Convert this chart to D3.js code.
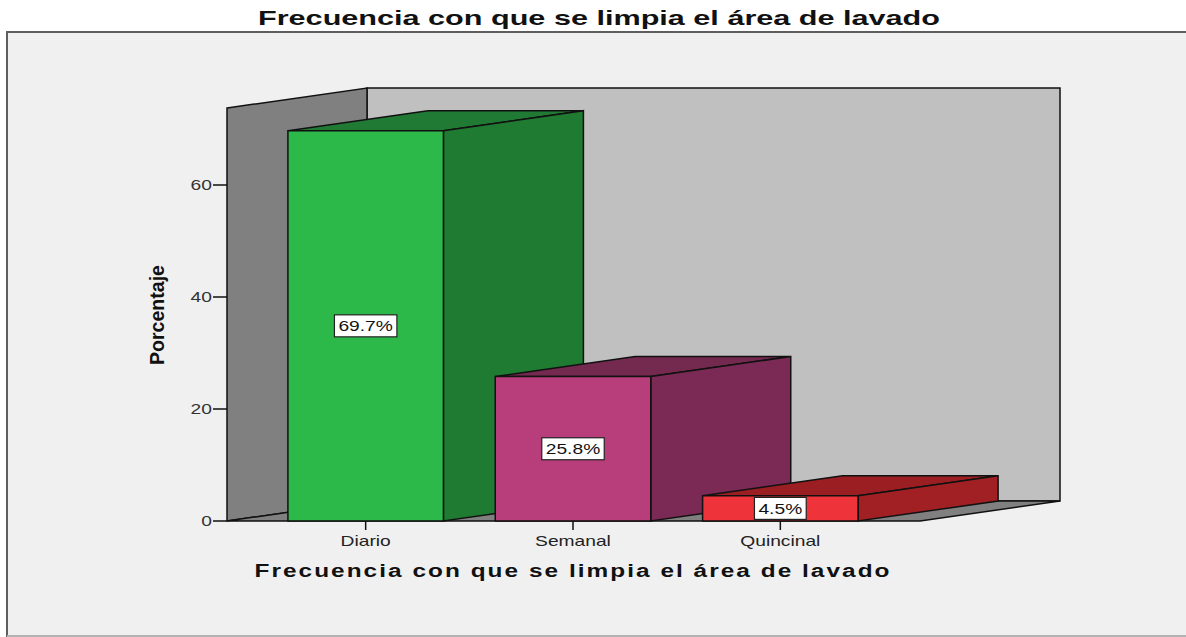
<!DOCTYPE html>
<html>
<head>
<meta charset="utf-8">
<script src="https://cdn.jsdelivr.net/npm/d3@7"></script>
<style>
  body { margin: 0; background: #fff; }
  svg { display: block; font-family: "Liberation Sans", Arial, sans-serif; }
</style>
</head>
<body>
<svg id="chart" width="1186" height="637"></svg>
<script>
// chart data
const categories = ["Diario", "Semanal", "Quincinal"];
const values = [69.7, 25.8, 4.5];
const labels = ["69.7%", "25.8%", "4.5%"];
const yTicks = [0, 20, 40, 60];
const frontColors = ["#2db84a", "#b83e7b", "#ef333b"];
const sideColors = ["#1f7a32", "#7a2a54", "#a02024"];
const topColors = ["#217a34", "#74294f", "#9b1f22"];

const titleText = "Frecuencia con que se limpia el área de lavado";

let svg = d3.select("#chart");

// depth of the 3d box
const dx = 140, dy = -20;
// the picture is stretched sideways, so stretch the small texts too
const stretch = 1.28;

let x = d3.scaleBand().domain(categories).range([262, 884]).paddingInner(0.25).paddingOuter(0.125);
let y = d3.scaleLinear().domain([0, 73.75]).range([521, 108]);

function widen(t) {
  let w = t.node().getComputedTextLength();
  t.attr("textLength", w * stretch).attr("lengthAdjust", "spacingAndGlyphs");
  return w * stretch;
}

// frame
svg.append("rect").attr("x", 7).attr("y", 32).attr("width", 1190).attr("height", 604)
  .attr("fill", "#f0f0f0").attr("stroke", "#5e5e5e").attr("stroke-width", 2);
svg.append("line").attr("x1", 7).attr("x2", 1186).attr("y1", 636).attr("y2", 636)
  .attr("stroke", "#cfcfcf").attr("stroke-width", 1.5);

// title
svg.append("text").attr("x", 599).attr("y", 25).attr("text-anchor", "middle")
  .attr("font-size", 21).attr("font-weight", "bold").attr("fill", "#111")
  .attr("textLength", 682).attr("lengthAdjust", "spacingAndGlyphs")
  .text(titleText);

let x0 = x.range()[0] - 35; // front-left corner of the plot floor
let x1 = x.range()[1] + 36; // front-right corner
let y0 = y(0), yTop = y(y.domain()[1]);

function poly(pts, fill) {
  return svg.append("polygon")
    .attr("points", pts.map(p => p.join(",")).join(" "))
    .attr("fill", fill).attr("stroke", "#111").attr("stroke-width", 1.5)
    .attr("stroke-linejoin", "miter");
}

// back wall
poly([[x0 + dx, yTop + dy], [x1 + dx, yTop + dy], [x1 + dx, y0 + dy], [x0 + dx, y0 + dy]], "#c0c0c0");
// left wall
poly([[x0, yTop], [x0 + dx, yTop + dy], [x0 + dx, y0 + dy], [x0, y0]], "#808080");
// floor
poly([[x0, y0], [x0 + dx, y0 + dy], [x1 + dx, y0 + dy], [x1, y0]], "#808080");

// y axis ticks
let ya = svg.append("g");
yTicks.forEach(t => {
  ya.append("line").attr("x1", x0 - 14).attr("x2", x0).attr("y1", y(t)).attr("y2", y(t))
    .attr("stroke", "#111").attr("stroke-width", 1.5);
  widen(ya.append("text").attr("x", x0 - 15).attr("y", y(t) + 5).attr("text-anchor", "end")
    .attr("font-size", 15).attr("fill", "#333").text(t));
});

// y axis title
svg.append("text").attr("transform", "translate(164,315) rotate(-90)")
  .attr("text-anchor", "middle").attr("font-size", 21).attr("font-weight", "bold")
  .attr("fill", "#111").attr("textLength", 100).attr("lengthAdjust", "spacingAndGlyphs")
  .text("Porcentaje");

// bars, left to right
categories.forEach((c, i) => {
  let bx = x(c), bw = x.bandwidth(), by = y(values[i]);
  // top face
  poly([[bx, by], [bx + dx, by + dy], [bx + bw + dx, by + dy], [bx + bw, by]], topColors[i]);
  // side face
  poly([[bx + bw, by], [bx + bw + dx, by + dy], [bx + bw + dx, y0 + dy], [bx + bw, y0]], sideColors[i]);
  // front face
  poly([[bx, by], [bx + bw, by], [bx + bw, y0], [bx, y0]], frontColors[i]);
});

// value labels
categories.forEach((c, i) => {
  let cx = x(c) + x.bandwidth() / 2;
  let cy = (y(values[i]) + y0) / 2;
  let g = svg.append("g");
  let t = g.append("text").attr("x", cx).attr("y", cy + 5.5).attr("text-anchor", "middle")
    .attr("font-size", 15).attr("fill", "#111").text(labels[i]);
  let w = widen(t) + 8;
  g.insert("rect", "text").attr("x", cx - w / 2).attr("y", cy - 11).attr("width", w).attr("height", 22)
    .attr("fill", "#fff").attr("stroke", "#222").attr("stroke-width", 1.2);
});

// category ticks and labels
categories.forEach(c => {
  let cx = x(c) + x.bandwidth() / 2;
  svg.append("line").attr("x1", cx).attr("x2", cx).attr("y1", y0).attr("y2", y0 + 9)
    .attr("stroke", "#111").attr("stroke-width", 1.5);
  widen(svg.append("text").attr("x", cx).attr("y", y0 + 25).attr("text-anchor", "middle")
    .attr("font-size", 15).attr("fill", "#222").text(c));
});

// x axis title
svg.append("text").attr("x", 573).attr("y", 577).attr("text-anchor", "middle")
  .attr("font-size", 18).attr("font-weight", "bold").attr("fill", "#111")
  .attr("letter-spacing", 1.5)
  .attr("textLength", 637).attr("lengthAdjust", "spacingAndGlyphs")
  .text(titleText);
</script>
</body>
</html>
